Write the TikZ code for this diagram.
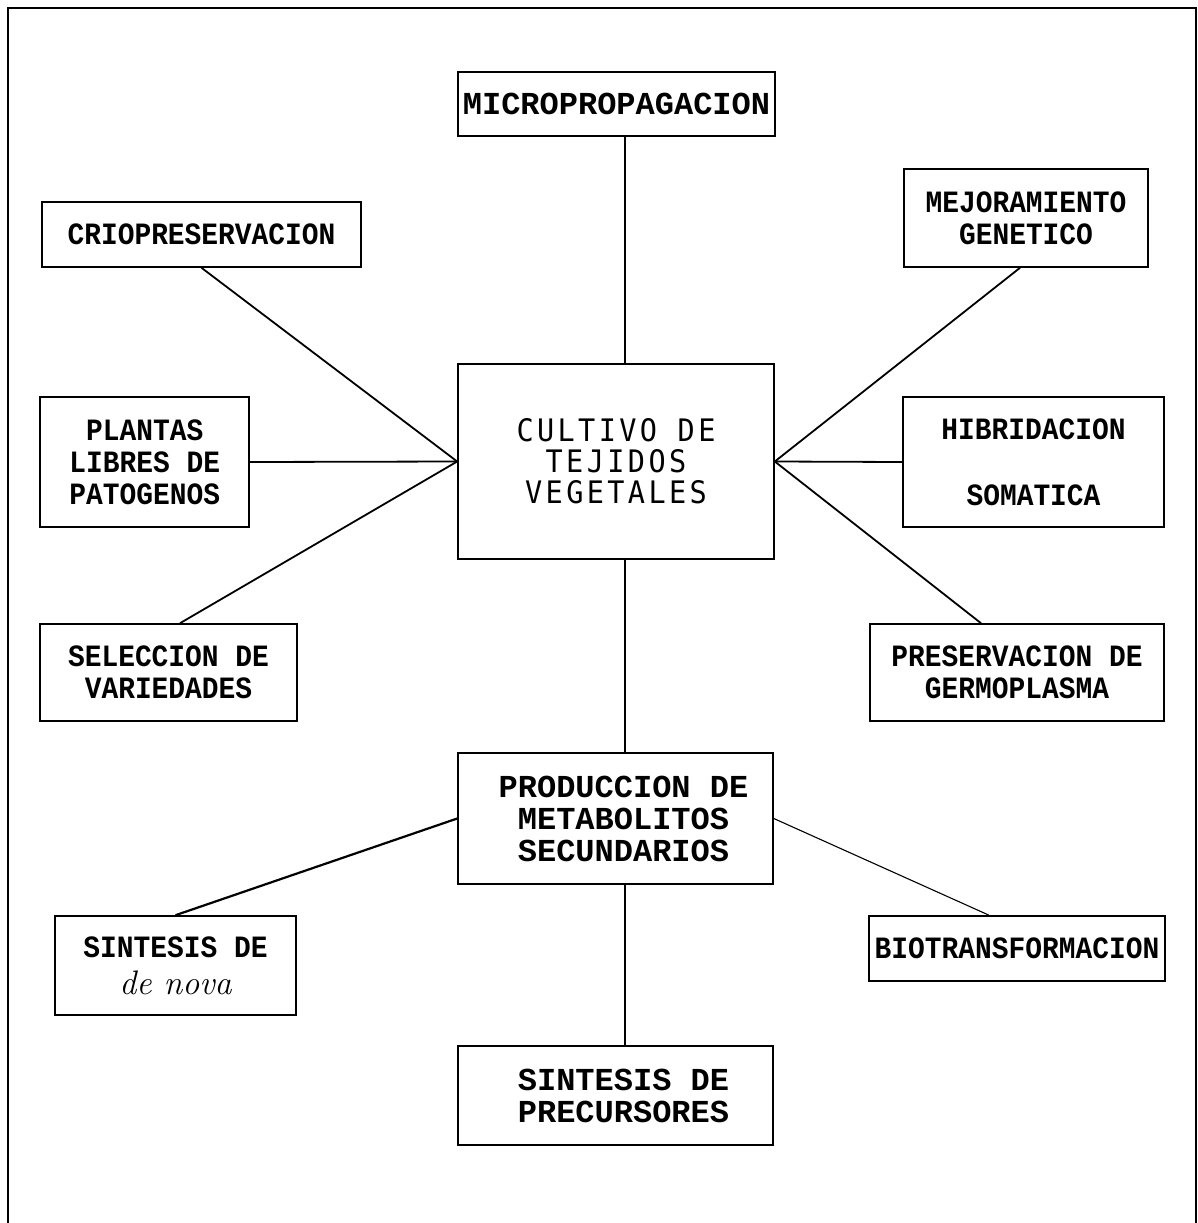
\documentclass[tikz,border=0pt]{standalone}
\usepackage{fontspec}
\newfontfamily\monoN[FakeStretch=0.9]{Liberation Mono}
\newfontfamily\monoW{Liberation Mono}
\newfontfamily\plotf[FakeStretch=0.92,LetterSpace=11]{DejaVu Sans Mono}
\begin{document}
\begin{tikzpicture}[x=1pt,y=-1pt,
  box/.style={draw, line width=1.6pt, inner sep=0pt, align=center},
  tsm/.style={font=\monoN\bfseries\fontsize{31}{32}\selectfont},
  tbg/.style={font=\monoW\bfseries\fontsize{32}{32}\selectfont},
  tcen/.style={font=\plotf\fontsize{31}{31}\selectfont},
  lnk/.style={line width=1.8pt},
  lnkt/.style={line width=1.1pt},
  frame/.style={line width=1.3pt}]
\useasboundingbox (0,0) rectangle (1198,1223);
\draw[frame] (8,1223) -- (8,8) -- (1196,8) -- (1196,1223);

\node[box,tbg,minimum width=317pt,minimum height=64pt] (micro) at (616.5,104) {MICROPROPAGACION};
\node[box,tsm,minimum width=319pt,minimum height=65pt] (crio) at (201.5,234.5) {CRIOPRESERVACION};
\node[box,tsm,minimum width=244pt,minimum height=98pt] (mejor) at (1026,218) {MEJORAMIENTO\\GENETICO};
\node[box,tcen,minimum width=316pt,minimum height=195pt] (cult) at (616,461.5) {CULTIVO DE\\TEJIDOS\\VEGETALES};
\node[box,tsm,minimum width=209pt,minimum height=130pt] (plantas) at (144.75,462) {PLANTAS\\LIBRES DE\\PATOGENOS};
\node[box,tsm,minimum width=261pt,minimum height=130pt] (hib) at (1033.5,462) {HIBRIDACION\\[34pt]SOMATICA};
\node[box,tsm,minimum width=257pt,minimum height=97pt] (sel) at (168.5,672.5) {SELECCION DE\\VARIEDADES};
\node[box,tsm,minimum width=294pt,minimum height=97pt] (pres) at (1017,672.5) {PRESERVACION DE\\GERMOPLASMA};
\node[box,tbg,minimum width=315pt,minimum height=131pt] (prod) at (615.5,818.5) {\hspace*{16pt}PRODUCCION DE\\\hspace*{16pt}METABOLITOS\\\hspace*{16pt}SECUNDARIOS};
\node[box,tsm,minimum width=241pt,minimum height=99pt] (nova) at (175.5,965.5) {SINTESIS DE\\[5pt]{\rmfamily\mdseries\itshape\fontsize{34}{32}\selectfont de nova}};
\node[box,tsm,minimum width=296pt,minimum height=65pt] (bio) at (1017,948.5) {BIOTRANSFORMACION};
\node[box,tbg,minimum width=315pt,minimum height=99pt] (prec) at (615.5,1095.5) {\hspace*{16pt}SINTESIS DE\\\hspace*{16pt}PRECURSORES};

\draw[lnk] (crio.south) -- (cult.west);
\draw[lnk] (plantas.east) -- (cult.west);
\draw[lnk] ([xshift=11.5pt]sel.north) -- (cult.west);
\draw[lnk] ([xshift=-6pt]mejor.south) -- (cult.east);
\draw[lnk] (hib.west) -- (cult.east);
\draw[lnk] ([xshift=-36pt]pres.north) -- (cult.east);
\draw[lnkt] ([xshift=8.5pt]micro.south) -- ([xshift=9pt]cult.north);
\draw[lnkt] ([xshift=9pt]cult.south) -- ([xshift=9.5pt]prod.north);
\draw[lnkt] ([xshift=9.5pt]prod.south) -- ([xshift=9.5pt]prec.north);
\draw[lnk,line width=2.2pt] (prod.west) -- (nova.north);
\draw[lnkt] (prod.east) -- ([xshift=-28pt]bio.north);
\end{tikzpicture}
\end{document}
